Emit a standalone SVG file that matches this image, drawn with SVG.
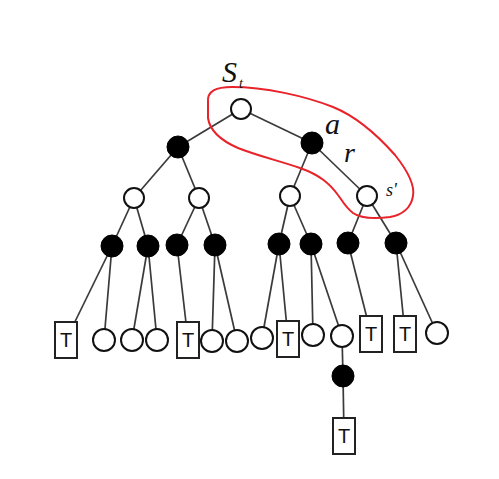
<svg xmlns="http://www.w3.org/2000/svg" width="499" height="479" viewBox="0 0 499 479">
<style>
.e{stroke:#3a3a3a;stroke-width:1.7;fill:none}
.o{fill:#fff;stroke:#111;stroke-width:2}
.b{fill:#000;stroke:#000;stroke-width:1}
.t{fill:#fff;stroke:#222;stroke-width:2}
.tt{font-family:"Liberation Sans",Arial,sans-serif;font-size:20px;fill:#111;text-anchor:middle}
.lb{font-family:"Liberation Serif","Times New Roman",serif;font-style:italic;fill:#111}
</style>
<rect width="499" height="479" fill="#fff"/>
<g id="connectors">
<line class="e" x1="241" y1="109" x2="178" y2="147"/>
<line class="e" x1="241" y1="109" x2="312" y2="143"/>
<line class="e" x1="312" y1="143" x2="290" y2="196"/>
<line class="e" x1="312" y1="143" x2="367" y2="196"/>
<line class="e" x1="178" y1="147" x2="134" y2="198"/>
<line class="e" x1="178" y1="147" x2="199" y2="198"/>
<line class="e" x1="134" y1="198" x2="112" y2="246"/>
<line class="e" x1="134" y1="198" x2="148" y2="246"/>
<line class="e" x1="199" y1="198" x2="177" y2="245"/>
<line class="e" x1="199" y1="198" x2="215" y2="245"/>
<line class="e" x1="290" y1="196" x2="279" y2="244"/>
<line class="e" x1="290" y1="196" x2="311" y2="244"/>
<line class="e" x1="367" y1="196" x2="348" y2="243"/>
<line class="e" x1="367" y1="196" x2="396" y2="243"/>
<line class="e" x1="112" y1="246" x2="66" y2="340"/>
<line class="e" x1="112" y1="246" x2="104" y2="340"/>
<line class="e" x1="148" y1="246" x2="132" y2="340"/>
<line class="e" x1="148" y1="246" x2="157" y2="340"/>
<line class="e" x1="177" y1="245" x2="188" y2="340"/>
<line class="e" x1="215" y1="245" x2="212" y2="341"/>
<line class="e" x1="215" y1="245" x2="237" y2="341"/>
<line class="e" x1="279" y1="244" x2="262" y2="338"/>
<line class="e" x1="279" y1="244" x2="288" y2="339"/>
<line class="e" x1="311" y1="244" x2="313" y2="335"/>
<line class="e" x1="311" y1="244" x2="342" y2="336"/>
<line class="e" x1="348" y1="243" x2="371" y2="334"/>
<line class="e" x1="396" y1="243" x2="405" y2="334"/>
<line class="e" x1="396" y1="243" x2="437" y2="333"/>
<line class="e" x1="342" y1="336" x2="343" y2="376"/>
<line class="e" x1="343" y1="376" x2="344" y2="436"/>
</g>
<g id="highlight">
<path d="M208,102 C207,91 216,87 232,87 C265,87 305,96 333,107 C360,118 380,138 395,155 C407,170 415,185 413,196 C411,208 402,215 390,217 C375,219 360,218 353,213 C345,207 342,200 338,195 C330,184 320,175 300,168 C280,161 258,156 238,148 C222,141 210,132 208,118 Z" fill="none" stroke="#e8232a" stroke-width="2"/>
</g>
<g id="n_root"><circle class="o" cx="241" cy="109" r="10"/></g>
<g id="n_a"><circle class="b" cx="312" cy="143" r="11"/></g>
<g id="n_l1"><circle class="b" cx="178" cy="147" r="11"/></g>
<g id="n_o1"><circle class="o" cx="134" cy="198" r="10"/></g>
<g id="n_o2"><circle class="o" cx="199" cy="198" r="10"/></g>
<g id="n_o3"><circle class="o" cx="290" cy="196" r="10"/></g>
<g id="n_s2"><circle class="o" cx="367" cy="196" r="10"/></g>
<g id="n_b1"><circle class="b" cx="112" cy="246" r="11"/></g>
<g id="n_b2"><circle class="b" cx="148" cy="246" r="11"/></g>
<g id="n_b3"><circle class="b" cx="177" cy="245" r="11"/></g>
<g id="n_b4"><circle class="b" cx="215" cy="245" r="11"/></g>
<g id="n_b5"><circle class="b" cx="279" cy="244" r="11"/></g>
<g id="n_b6"><circle class="b" cx="311" cy="244" r="11"/></g>
<g id="n_b7"><circle class="b" cx="348" cy="243" r="11"/></g>
<g id="n_b8"><circle class="b" cx="396" cy="243" r="11"/></g>
<g id="n_t1"><rect class="t" x="55" y="322" width="22" height="36"/><text class="tt" x="66" y="347">T</text></g>
<g id="n_c1"><circle class="o" cx="104" cy="340" r="11"/></g>
<g id="n_c2"><circle class="o" cx="132" cy="340" r="11"/></g>
<g id="n_c3"><circle class="o" cx="157" cy="340" r="11"/></g>
<g id="n_t2"><rect class="t" x="177" y="322" width="22" height="36"/><text class="tt" x="188" y="347">T</text></g>
<g id="n_c4"><circle class="o" cx="212" cy="341" r="11"/></g>
<g id="n_c5"><circle class="o" cx="237" cy="341" r="11"/></g>
<g id="n_c6"><circle class="o" cx="262" cy="338" r="11"/></g>
<g id="n_t3"><rect class="t" x="277" y="321" width="22" height="36"/><text class="tt" x="288" y="346">T</text></g>
<g id="n_c7"><circle class="o" cx="313" cy="335" r="11"/></g>
<g id="n_c8"><circle class="o" cx="342" cy="336" r="11"/></g>
<g id="n_t4"><rect class="t" x="360" y="316" width="22" height="36"/><text class="tt" x="371" y="341">T</text></g>
<g id="n_t5"><rect class="t" x="394" y="316" width="22" height="36"/><text class="tt" x="405" y="341">T</text></g>
<g id="n_c9"><circle class="o" cx="437" cy="333" r="11"/></g>
<g id="n_b9"><circle class="b" cx="343" cy="376" r="11"/></g>
<g id="n_t6"><rect class="t" x="333" y="418" width="22" height="36"/><text class="tt" x="344" y="443">T</text></g>
<g id="labels">
<text class="lb" x="222" y="82" font-size="30">S</text>
<text class="lb" x="239" y="88" font-size="14">t</text>
<text class="lb" x="325" y="134" font-size="30">a</text>
<text class="lb" x="344" y="162" font-size="28">r</text>
<text class="lb" x="386" y="196" font-size="18">s'</text>
</g>
</svg>
